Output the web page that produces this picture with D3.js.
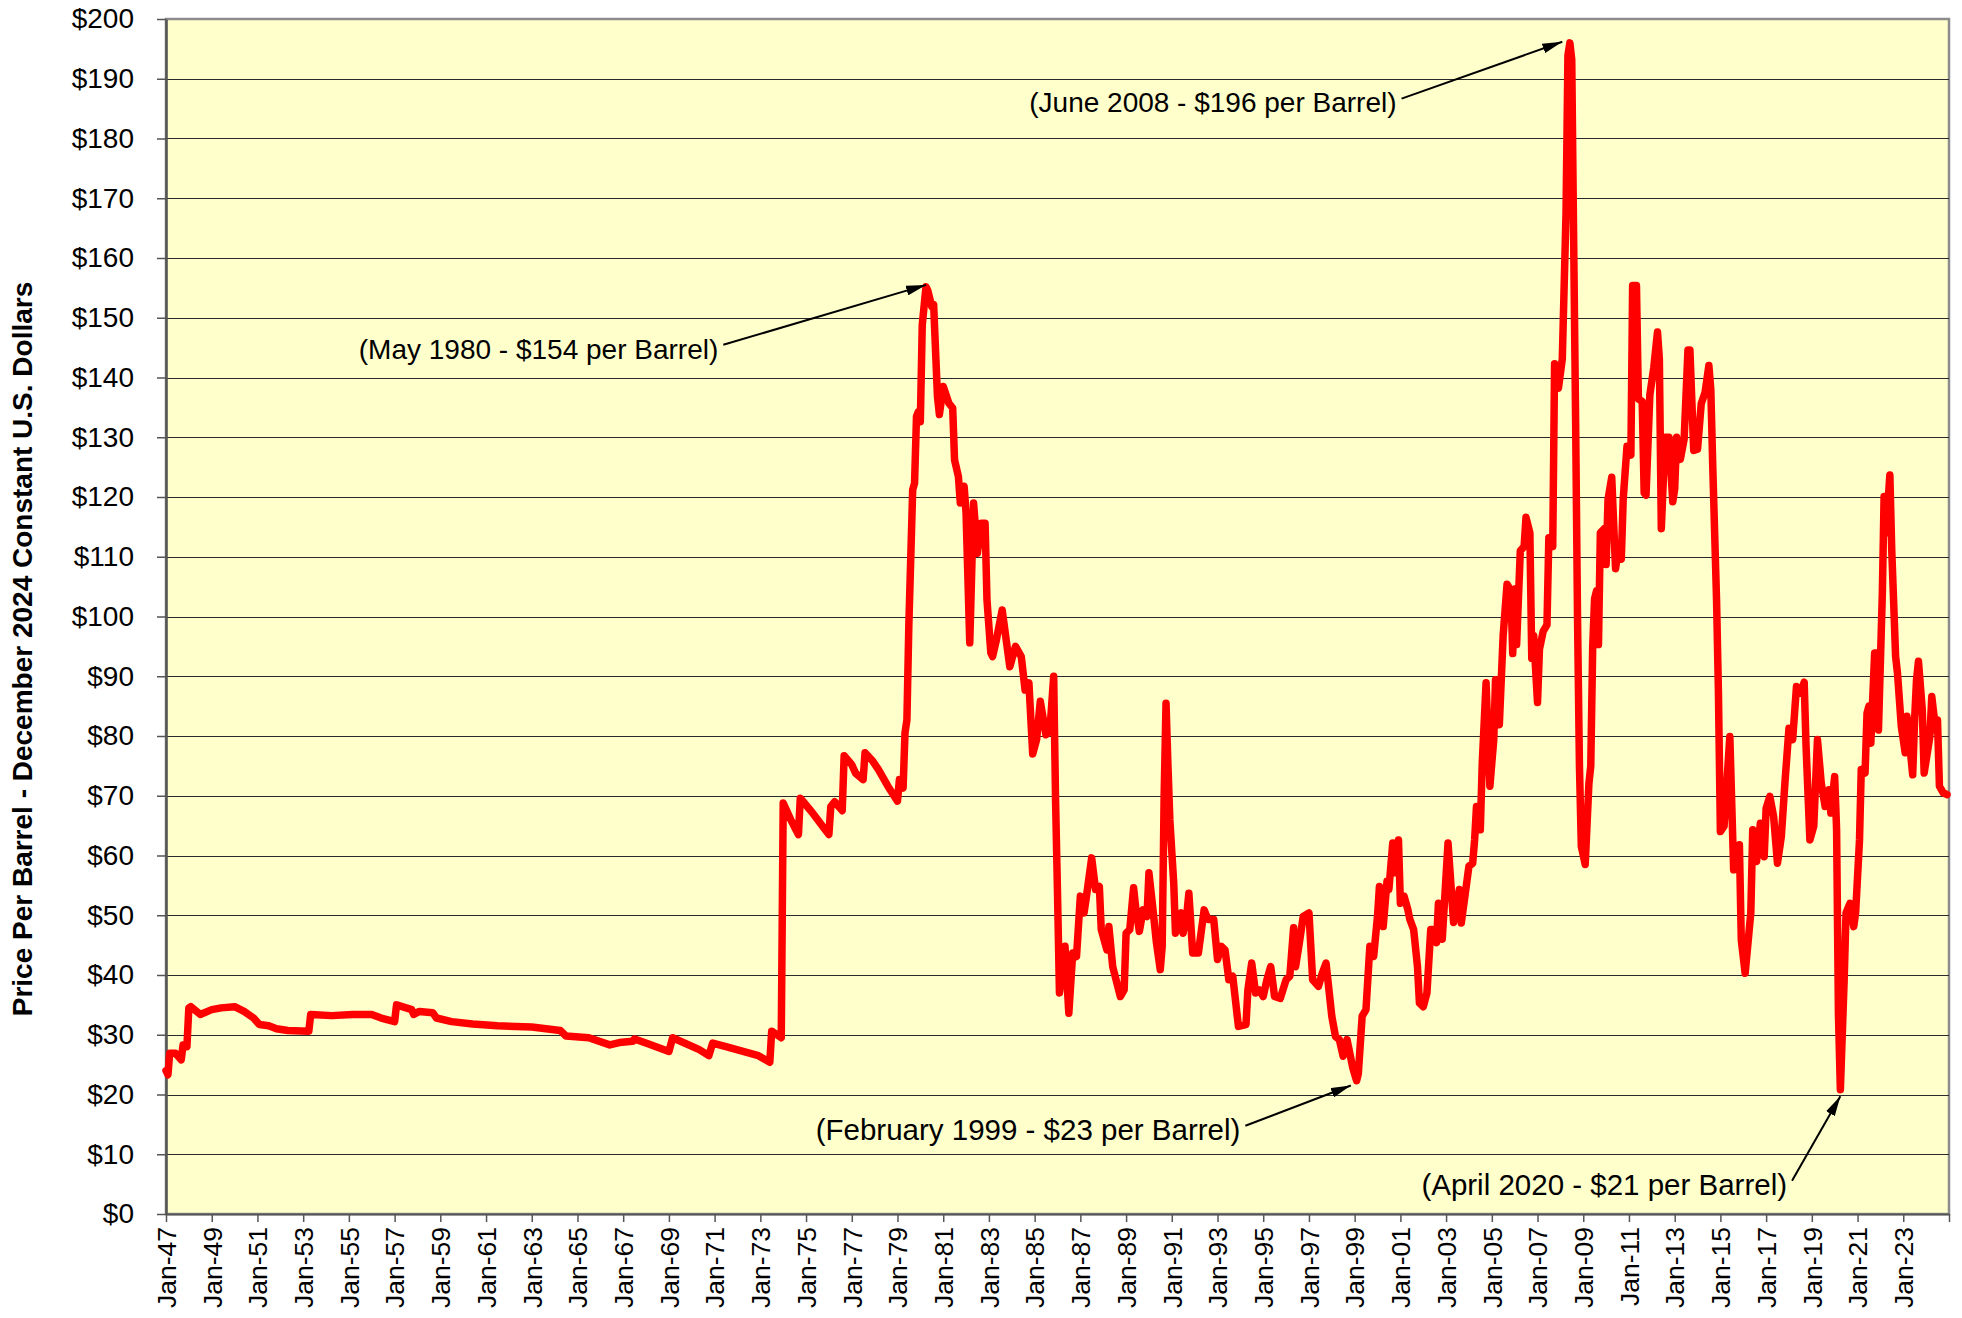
<!DOCTYPE html>
<html>
<head>
<meta charset="utf-8">
<script src="https://cdn.jsdelivr.net/npm/d3@7"></script>
<style>
  body { margin: 0; background: #fff; }
  svg text { font-family: "Liberation Sans", Arial, sans-serif; fill: #000; }
</style>
</head>
<body>
<div id="plot"></div>
<script>
// monthly oil price, December 2024 constant dollars
const prices1947to1959 = [
  ["1947-01",24.0],["1947-02",23.3],["1947-03",26.9],["1947-06",26.9],["1947-09",25.8],["1947-10",28.3],["1947-12",28.0],
  ["1948-01",34.5],["1948-02",34.7],["1948-07",33.4],["1949-01",34.2],["1949-06",34.5],["1950-01",34.7],["1950-06",33.9],
  ["1950-11",32.8],["1951-02",31.7],["1951-07",31.5],["1951-11",31.0],["1952-05",30.7],["1953-04",30.6],["1953-05",33.4],
  ["1954-04",33.2],["1955-03",33.4],["1956-01",33.4],["1956-06",32.8],["1957-01",32.2],["1957-02",35.0],["1957-10",34.2],
  ["1957-11",33.4],["1958-02",33.9],["1958-09",33.7],["1958-11",32.8],["1959-07",32.2]
];
const prices1960to1972 = [
  ["1960-06",31.8],["1961-07",31.5],["1963-01",31.3],["1964-04",30.7],["1964-07",29.8],["1965-07",29.5],["1966-06",28.3],
  ["1966-11",28.7],["1967-06",28.9],["1967-07",29.3],["1968-02",28.5],["1969-01",27.2],["1969-03",29.5],["1970-05",27.5],
  ["1970-10",26.5],["1970-12",28.6],["1971-07",28.0],["1972-12",26.5]
];
const prices1973to1985 = [
  ["1973-06",25.4],["1973-07",30.6],["1973-12",29.5],["1974-01",68.8],["1974-05",66.0],["1974-09",63.5],["1974-10",69.6],
  ["1975-03",67.7],["1975-05",66.9],["1975-09",65.2],["1976-01",63.5],["1976-02",68.2],["1976-04",69.0],["1976-08",67.5],
  ["1976-09",76.7],["1977-01",75.2],["1977-03",73.8],["1977-07",72.7],["1977-08",77.2],["1977-12",75.8],["1978-03",74.4],
  ["1978-08",71.6],["1979-01",69.1],["1979-02",72.7],["1979-04",71.3],["1979-05",80.5],["1979-06",82.7],["1979-07",98.3],
  ["1979-09",121.2],["1979-10",122.3],["1979-11",133.5],["1979-12",134.3],["1980-01",132.6],["1980-02",148.8],["1980-04",155.2],
  ["1980-05",154.5],["1980-07",151.9],["1980-08",152.2],["1980-10",136.8],["1980-11",133.8],["1981-01",138.5],["1981-04",135.7],
  ["1981-06",134.9],["1981-07",126.2],["1981-09",123.4],["1981-10",119.0],["1981-12",121.8],["1982-01",117.3],["1982-03",95.6],
  ["1982-05",119.0],["1982-07",110.6],["1982-09",115.6],["1982-11",115.6],["1982-12",102.8],["1983-02",93.9],["1983-03",93.3],
  ["1983-05",96.1],["1983-08",101.1],["1983-12",91.6],["1984-03",95.0],["1984-06",93.3],["1984-08",87.7],["1984-10",88.9],
  ["1984-12",77.0],["1985-02",79.4],["1985-04",85.8],["1985-07",80.2],["1985-09",80.8],["1985-11",90.0],["1985-12",69.3]
];
const prices1986to1998 = [
  ["1986-01",53.7],["1986-02",37.0],["1986-05",44.8],["1986-07",33.6],["1986-09",43.7],["1986-11",43.1],["1987-01",53.2],
  ["1987-03",50.4],["1987-04",52.6],["1987-07",59.6],["1987-09",54.3],["1987-11",54.8],["1987-12",47.6],["1988-03",44.2],
  ["1988-04",48.1],["1988-06",41.4],["1988-10",36.4],["1988-12",37.5],["1989-01",47.0],["1989-03",47.6],["1989-05",54.6],
  ["1989-06",51.5],["1989-08",47.3],["1989-10",50.9],["1989-12",49.8],["1990-01",57.1],["1990-03",51.5],["1990-05",45.4],
  ["1990-07",40.9],["1990-08",44.8],["1990-09",70.0],["1990-10",85.5],["1990-11",75.0],["1990-12",66.0],["1991-02",55.4],
  ["1991-03",47.0],["1991-06",50.4],["1991-07",47.0],["1991-09",50.4],["1991-10",53.7],["1991-12",43.7],["1992-03",43.7],
  ["1992-06",50.9],["1992-08",49.3],["1992-11",49.3],["1993-01",42.6],["1993-03",44.8],["1993-05",44.2],["1993-07",39.2],
  ["1993-09",39.8],["1993-12",31.4],["1994-04",31.7],["1994-05",37.5],["1994-07",42.0],["1994-09",37.0],["1994-11",37.5],
  ["1995-01",36.4],["1995-03",39.2],["1995-05",41.4],["1995-07",36.4],["1995-10",36.1],["1996-01",39.2],["1996-03",39.8],
  ["1996-05",47.9],["1996-06",41.4],["1996-08",45.4],["1996-10",49.8],["1997-01",50.4],["1997-03",39.2],["1997-06",38.1],
  ["1997-08",40.3],["1997-10",42.0],["1998-01",33.1],["1998-03",29.7],["1998-05",29.2],["1998-07",26.4],["1998-09",29.2],
  ["1998-12",24.5]
];
const prices1999to2011 = [
  ["1999-02",22.3],["1999-03",23.5],["1999-05",33.1],["1999-07",34.2],["1999-09",44.8],["1999-11",43.1],["2000-01",49.8],
  ["2000-02",54.8],["2000-04",48.1],["2000-06",55.7],["2000-07",54.3],["2000-09",62.1],["2000-10",57.1],["2000-12",62.6],
  ["2001-01",52.0],["2001-03",53.2],["2001-05",50.9],["2001-06",49.3],["2001-08",47.6],["2001-10",41.4],["2001-11",35.3],
  ["2002-01",34.7],["2002-03",37.0],["2002-05",47.6],["2002-06",47.6],["2002-08",45.4],["2002-09",52.0],["2002-11",46.0],
  ["2003-02",62.1],["2003-05",48.8],["2003-08",54.3],["2003-09",48.7],["2004-01",58.2],["2004-03",58.7],["2004-04",62.6],
  ["2004-05",68.2],["2004-07",64.3],["2004-08",75.5],["2004-10",88.9],["2004-12",71.6],["2005-02",79.4],["2005-03",89.4],
  ["2005-05",81.9],["2005-07",96.8],["2005-09",105.4],["2005-11",104.3],["2005-12",93.8],["2006-01",104.6],["2006-02",95.3],
  ["2006-04",111.0],["2006-06",111.7],["2006-07",116.6],["2006-09",114.0],["2006-10",93.0],["2006-11",96.8],["2007-01",85.6],
  ["2007-02",94.5],["2007-04",97.5],["2007-06",98.6],["2007-07",113.2],["2007-09",111.7],["2007-10",142.3],["2007-12",138.2],
  ["2008-02",143.1],["2008-04",167.7],["2008-05",193.9],["2008-06",196.0],["2008-07",193.2],["2008-08",162.5],["2008-09",132.6],
  ["2008-10",100.0],["2008-11",75.0],["2008-12",61.5],["2009-02",58.5],["2009-04",72.0],["2009-05",75.0],["2009-06",95.0],
  ["2009-07",103.0],["2009-08",104.3],["2009-09",95.3],["2009-10",114.0],["2009-12",114.7],["2010-01",108.7],["2010-02",119.6],
  ["2010-04",123.3],["2010-06",108.0],["2010-07",110.2],["2010-09",109.6],["2010-10",119.6],["2010-12",128.5],["2011-02",127.0],
  ["2011-03",155.4],["2011-05",155.4],["2011-06",136.4],["2011-08",136.0],["2011-09",120.7],["2011-10",120.3],["2011-12",137.1]
];
const prices2012to2024 = [
  ["2012-02",141.6],["2012-04",147.6],["2012-05",143.1],["2012-06",114.7],["2012-08",130.0],["2012-10",130.0],["2012-12",119.2],
  ["2013-01",121.4],["2013-02",130.0],["2013-04",126.3],["2013-06",129.7],["2013-08",144.6],["2013-09",144.6],["2013-11",127.8],
  ["2014-01",128.0],["2014-03",135.6],["2014-05",137.5],["2014-07",142.0],["2014-08",138.0],["2014-09",125.2],["2014-11",102.7],
  ["2014-12",87.2],["2015-01",64.0],["2015-03",64.9],["2015-06",79.9],["2015-08",57.6],["2015-11",61.8],["2015-12",45.9],
  ["2016-02",40.3],["2016-05",50.4],["2016-06",64.3],["2016-08",59.0],["2016-10",65.4],["2016-12",59.8],["2017-01",67.9],
  ["2017-03",69.9],["2017-05",66.5],["2017-07",58.7],["2017-09",63.2],["2017-11",72.7],["2018-01",81.3],["2018-03",79.4],
  ["2018-05",88.3],["2018-07",87.2],["2018-09",89.0],["2018-10",78.3],["2018-12",62.6],["2019-02",64.9],["2019-04",79.4],
  ["2019-06",72.1],["2019-08",68.2],["2019-10",71.0],["2019-11",67.1],["2020-01",73.2],["2020-02",64.3],["2020-03",33.6],
  ["2020-04",20.8],["2020-06",39.2],["2020-07",50.4],["2020-09",52.0],["2020-11",48.1],["2020-12",50.4],["2021-02",62.6],
  ["2021-03",74.4],["2021-05",73.8],["2021-06",83.8],["2021-07",85.0],["2021-08",78.8],["2021-10",93.9],["2021-11",93.9],
  ["2021-12",81.0],["2022-02",103.9],["2022-03",120.1],["2022-04",114.0],["2022-06",123.7],["2022-07",111.2],["2022-09",93.3],
  ["2022-10",90.5],["2022-12",81.6],["2023-02",77.2],["2023-03",83.3],["2023-06",73.5],["2023-07",82.7],["2023-08",89.4],
  ["2023-09",92.5],["2023-11",84.4],["2023-12",73.8],["2024-03",79.9],["2024-04",86.6],["2024-06",81.0],["2024-07",82.7],
  ["2024-08",71.6],["2024-10",70.5],["2024-12",70.2]
];

const yTicks = d3.range(0, 201, 10);
const xTickYears = d3.range(1947, 2026, 2);

// annotation labels and the point each arrow points at
const annotationLabels = ["(May 1980 - $154 per Barrel)", "(June 2008 - $196 per Barrel)",
                          "(February 1999 - $23 per Barrel)", "(April 2020 - $21 per Barrel)"];
const annotationTips = [["1980-04", 155.5], ["2008-02", 196.2], ["1998-11", 21.5], ["2020-04", 19.7]];

// where each label ends (in chart units) and its font size
const labelLayout = [
  {at: "1971-03", v: 144.8, size: 28},
  {at: "2000-11", v: 186.0, size: 28},
  {at: "1994-01", v: 14.1, size: 29.5},
  {at: "2017-12", v: 4.9, size: 29.5}
];

const parse = d3.timeParse("%Y-%m");
const data = [].concat(prices1947to1959, prices1960to1972, prices1973to1985,
                       prices1986to1998, prices1999to2011, prices2012to2024)
  .map(d => ({date: parse(d[0]), value: d[1]}));

const w = 1962, h = 1318;
const margin = {top: 19, right: 13, bottom: 104, left: 166},
    innerWidth = w - margin.left - margin.right,
    innerHeight = h - margin.top - margin.bottom;

const root = d3.select("#plot").append("svg")
    .attr("width", w)
    .attr("height", h);

root.append("defs").append("marker")
    .attr("id", "arrow")
    .attr("viewBox", "0 0 20 10")
    .attr("refX", 20).attr("refY", 5)
    .attr("markerWidth", 20).attr("markerHeight", 10)
    .attr("markerUnits", "userSpaceOnUse")
    .attr("orient", "auto")
  .append("path")
    .attr("d", "M0,0 L20,5 L0,10 z")
    .attr("fill", "#000");

const svg = root.append("g")
    .attr("transform", `translate(${margin.left},${margin.top})`);

const x = d3.scaleTime()
  .domain([new Date(1947, 0, 1), new Date(2025, 0, 1)])
  .range([0, innerWidth]);

const y = d3.scaleLinear()
  .domain([0, 200])
  .range([innerHeight, 0]);

// plot area
svg.append("rect")
  .attr("width", innerWidth)
  .attr("height", innerHeight)
  .attr("fill", "#ffffcc")
  .attr("stroke", "#8c8c8c")
  .attr("stroke-width", 2.5);

// gridlines
svg.append("g")
  .selectAll("line")
  .data(yTicks.filter(d => d > 0 && d < 200))
  .enter().append("line")
    .attr("x1", 0)
    .attr("x2", innerWidth)
    .attr("y1", d => Math.round(y(d)) + 0.5)
    .attr("y2", d => Math.round(y(d)) + 0.5)
    .attr("stroke", "#2a2a2a")
    .attr("stroke-width", 1.2);

// y axis
const yAxis = svg.append("g")
  .attr("class", "yAxis")
  .call(d3.axisLeft(y).tickValues(yTicks).tickSize(9).tickSizeOuter(0).tickPadding(23)
    .tickFormat(d => "$" + d));
yAxis.select(".domain").attr("stroke", "#555").attr("stroke-width", 2.5);
yAxis.selectAll(".tick line").attr("stroke", "#555").attr("stroke-width", 1.5);
yAxis.selectAll("text").style("font-size", "28px");

// x axis
const xAxis = svg.append("g")
  .attr("class", "xAxis")
  .attr("transform", `translate(0, ${innerHeight})`)
  .call(d3.axisBottom(x).tickValues(xTickYears.map(yr => new Date(yr, 0, 1)))
    .tickSize(8).tickSizeOuter(0)
    .tickFormat(d => d.getFullYear() < 2025 ? d3.timeFormat("Jan-%y")(d) : ""));
xAxis.select(".domain").attr("stroke", "#555").attr("stroke-width", 2);
xAxis.selectAll(".tick line").attr("stroke", "#555").attr("stroke-width", 1.5);
xAxis.selectAll("text")
  .style("font-size", "26.5px")
  .attr("transform", "rotate(-90)")
  .attr("text-anchor", "end")
  .attr("x", -13)
  .attr("y", 0)
  .attr("dy", "0.35em");

// y label
svg.append("text")
  .attr("transform", `translate(${32 - margin.left}, ${649 - margin.top}) rotate(-90)`)
  .attr("text-anchor", "middle")
  .style("font-size", "28px")
  .style("font-weight", "bold")
  .text("Price Per Barrel - December 2024 Constant U.S. Dollars");

// price line
const line = d3.line()
  .x(d => x(d.date))
  .y(d => y(d.value));

svg.append("path")
  .datum(data)
  .attr("d", line)
  .attr("fill", "none")
  .attr("stroke", "#ff0000")
  .attr("stroke-width", 7.5)
  .attr("stroke-linejoin", "round")
  .attr("stroke-linecap", "round");

// annotations
annotationLabels.forEach((label, i) => {
  const lay = labelLayout[i], tip = annotationTips[i];
  const tx = x(parse(lay.at)), ty = y(lay.v);
  svg.append("text")
    .attr("x", tx)
    .attr("y", ty)
    .attr("dy", "0.35em")
    .attr("text-anchor", "end")
    .style("font-size", lay.size + "px")
    .text(label);
  svg.append("line")
    .attr("x1", tx + 5)
    .attr("y1", ty - 4)
    .attr("x2", x(parse(tip[0])))
    .attr("y2", y(tip[1]))
    .attr("stroke", "#000")
    .attr("stroke-width", 2)
    .attr("marker-end", "url(#arrow)");
});
</script>
</body>
</html>
